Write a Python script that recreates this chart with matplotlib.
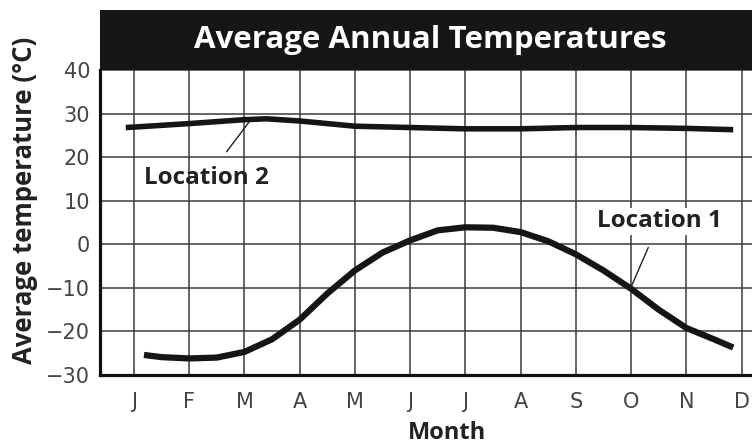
import matplotlib.pyplot as plt
from matplotlib.patches import Rectangle

# month labels and values (x = month index, Jan = 0)
months = ["J", "F", "M", "A", "M", "J", "J", "A", "S", "O", "N", "D"]

loc1_x = [0.18, 0.5, 1, 1.5, 2, 2.5, 3, 3.5, 4, 4.5, 5, 5.5, 6, 6.5, 7, 7.5, 8, 8.5, 9, 9.5, 10, 10.5, 10.85]
loc1_t = [-25.4, -25.9, -26.2, -26.0, -24.7, -21.8, -17.3, -11.3, -6.0, -1.9, 0.9, 3.2, 3.9, 3.8, 2.8, 0.7,
          -2.3, -6.0, -10.2, -15.0, -19.2, -21.8, -23.7]

loc2_x = [-0.15, 0, 1, 2, 2.4, 3, 3.5, 4, 5, 6, 7, 8, 9, 10, 10.85]
loc2_t = [26.8, 26.9, 27.7, 28.6, 28.8, 28.3, 27.7, 27.1, 26.8, 26.5, 26.5, 26.8, 26.8, 26.6, 26.3]

yticks = [-30, -20, -10, 0, 10, 20, 30, 40]

W, H = 752, 447
fig = plt.figure(figsize=(W / 100, H / 100), dpi=100)
ax = fig.add_axes([100 / W, 1 - 375 / H, 1 - 100 / W, 305 / H])

grid_col = "#3a3a3a"
for i in range(len(months)):
    ax.axvline(i, color=grid_col, lw=1.1, zorder=1)
for v in yticks:
    ax.axhline(v, color=grid_col, lw=1.1, zorder=1)

ax.plot(loc2_x, loc2_t, color="#151515", lw=4.0, solid_capstyle="butt", solid_joinstyle="round", zorder=3)
ax.plot(loc1_x, loc1_t, color="#151515", lw=4.5, solid_capstyle="butt", solid_joinstyle="round", zorder=3)

ax.set_xlim(-0.616, 11.19)
ax.set_ylim(-30, 40)
ax.set_xticks(range(len(months)))
ax.set_xticklabels(months)
ax.set_yticks(yticks)
ax.tick_params(length=0, labelsize=15, labelcolor="#444444")
ax.tick_params(axis="x", pad=12)
ax.tick_params(axis="y", pad=7)

for s in ["top", "right"]:
    ax.spines[s].set_visible(False)
for s in ["left", "bottom"]:
    ax.spines[s].set_linewidth(2.3)
    ax.spines[s].set_color("#111111")

fnt = ["Open Sans", "DejaVu Sans"]
ax.annotate("Location 2", xy=(2.08, 28.0), xytext=(1.32, 15.3), ha="center", va="center",
            fontsize=17.5, fontweight="bold", family=fnt, color="#222222",
            arrowprops=dict(arrowstyle="-", color="#222222", lw=1.0, shrinkA=10, shrinkB=0), zorder=4)
ax.annotate("Location 1", xy=(8.99, -10.1), xytext=(9.52, 5.3), ha="center", va="center",
            fontsize=17.5, fontweight="bold", family=fnt, color="#222222",
            bbox=dict(facecolor="white", edgecolor="none", pad=1),
            arrowprops=dict(arrowstyle="-", color="#222222", lw=1.0, shrinkA=10, shrinkB=0), zorder=4)

# black title bar
fig.patches.append(Rectangle((100 / W, 1 - 70 / H), 1 - 100 / W, 60 / H, transform=fig.transFigure,
                             facecolor="#161616", edgecolor="none"))
fig.text(430 / W, 1 - 40 / H, "Average Annual Temperatures", ha="center", va="center",
         color="white", fontsize=22.5, fontweight="bold", family=fnt)

fig.text(25 / W, 1 - 200 / H, "Average temperature (°C)", rotation=90, ha="center", va="center",
         fontsize=18.5, fontweight="bold", family=fnt, color="#222222")
fig.text(447 / W, 1 - 433 / H, "Month", ha="center", va="center",
         fontsize=17, fontweight="bold", family=fnt, color="#222222")

fig.savefig("out.png", dpi=100)
